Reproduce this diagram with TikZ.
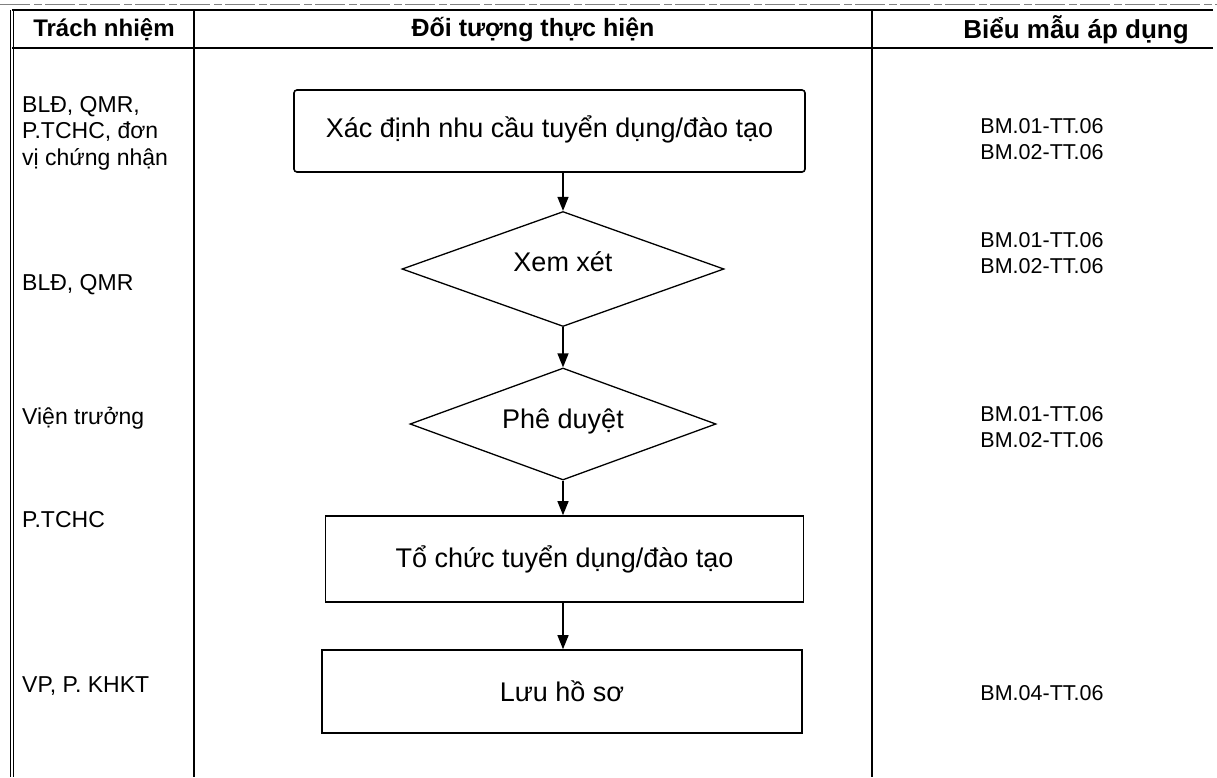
\documentclass[tikz,border=0pt]{standalone}
\usepackage{fontspec}
\setmainfont{Liberation Sans}
\usetikzlibrary{shapes.geometric,arrows.meta}
\newcommand{\dectext}[2]{\raisebox{#1}[0pt][0pt]{\makebox[0pt]{#2}}}
\begin{document}
\begin{tikzpicture}[x=1pt,y=-1pt,
  tline/.style={line width=1.3pt},
  procbox/.style={draw,line width=1.6pt,inner sep=0pt,font=\fontsize{27}{30}\selectfont},
  decbox/.style={draw,diamond,line width=1.3pt,inner sep=0pt,font=\fontsize{27}{30}\selectfont},
  flow/.style={line width=1.3pt,-{Triangle[length=14pt,width=11pt]}},
  hdr/.style={font=\fontsize{25}{29}\selectfont\bfseries,inner sep=0pt},
  lefttxt/.style={anchor=west,align=left,inner sep=0pt,font=\fontsize{23}{26.5}\selectfont},
  righttxt/.style={align=center,inner sep=0pt,font=\fontsize{21.5}{26.5}\selectfont},
]
\useasboundingbox (0,0) rectangle (1217,777);
% table
\draw[line width=0.5pt,gray,dash pattern=on 30pt off 4pt on 8pt off 3pt] (0,4) -- (1217,4);
\draw[tline] (12,10) -- (1213,10);
\draw[tline] (12,48) -- (1213,48);
\draw[line width=0.6pt] (10,10) -- (10,777);
\draw[tline] (13.5,10) -- (13.5,777);
\draw[tline] (194,10) -- (194,777);
\draw[tline] (872,10) -- (872,777);
% headers
\node[hdr,font=\fontsize{24}{28}\selectfont\bfseries] (h1) at (104,30) {Trách nhiệm};
\node[hdr] (h2) at (533,30) {Đối tượng thực hiện};
\node[hdr,font=\fontsize{26}{30}\selectfont\bfseries] (h3) at (1076,30) {Biểu mẫu áp dụng};
% left column
\node[lefttxt] (r1) at (22,133) {BLĐ, QMR,\\P.TCHC, đơn\\vị chứng nhận};
\node[lefttxt] (r2) at (22,285) {BLĐ, QMR};
\node[lefttxt] (r3) at (22,418) {Viện trưởng};
\node[lefttxt] (r4) at (22,520) {P.TCHC};
\node[lefttxt] (r5) at (22,686) {VP, P. KHKT};
% right column
\node[righttxt] (f1) at (1042,139) {BM.01-TT.06\\BM.02-TT.06};
\node[righttxt] (f2) at (1042,253) {BM.01-TT.06\\BM.02-TT.06};
\node[righttxt] (f3) at (1042,427) {BM.01-TT.06\\BM.02-TT.06};
\node[righttxt] (f4) at (1042,693) {BM.04-TT.06};
% flow
\node[procbox,rounded corners=3pt,minimum width=511pt,minimum height=82pt] (b1) at (549.5,131) {\raisebox{8pt}{Xác định nhu cầu tuyển dụng/đào tạo}};
\node[decbox,minimum width=322pt,minimum height=115pt] (d1) at (563,269) {\dectext{-2pt}{Xem xét}};
\node[decbox,minimum width=306pt,minimum height=112pt] (d2) at (563,424) {\dectext{-4pt}{Phê duyệt}};
\node[procbox,minimum width=478pt,minimum height=86pt] (b3) at (564.5,559) {Tổ chức tuyển dụng/đào tạo};
\node[procbox,minimum width=480pt,minimum height=83pt] (b4) at (562,691.5) {Lưu hồ sơ};
\draw[flow] (d1.north |- b1.south) -- (d1.north);
\draw[flow] (d1.south) -- (d2.north);
\draw[flow] (d2.south) -- (d2.south |- b3.north);
\draw[flow] (d2.south |- b3.south) -- (d2.south |- b4.north);
\end{tikzpicture}
\end{document}
